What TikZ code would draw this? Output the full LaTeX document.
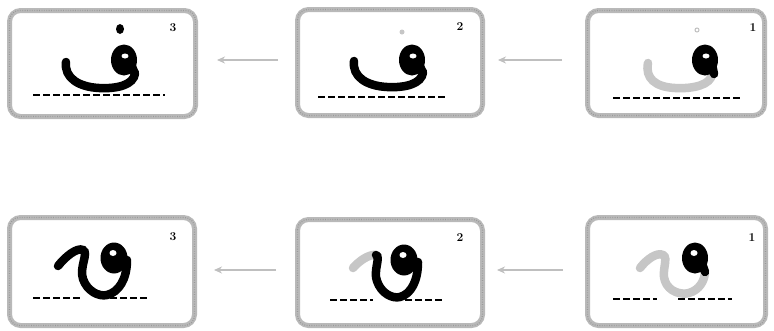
\documentclass[tikz,border=0pt]{standalone}
\usetikzlibrary{arrows.meta}
\begin{document}
\begin{tikzpicture}[x=1pt,y=-1pt,
  box/.style={draw=gray!55, line width=5pt, rounded corners=11pt, fill=white},
  boxtex/.style={draw=gray!80, line width=1.2pt, dash pattern=on 0.8pt off 1.6pt, rounded corners=10pt},
  arr/.style={draw=gray!50, line width=2pt, -{Stealth[length=8pt,width=7pt]}},
  ink/.style={line width=8.5pt, line cap=round, draw=black},
  inkg/.style={line width=8.5pt, line cap=round, draw=gray!45},
  baseln/.style={line width=1.6pt, dash pattern=on 7pt off 3pt},
  num/.style={font=\fontsize{12}{14}\selectfont\bfseries, inner sep=0pt}]
\useasboundingbox (0,0) rectangle (774,330);
% boxes
\node[box, minimum width=186pt, minimum height=106pt] (t3) at (102.5,63.5) {};
\node[box, minimum width=185pt, minimum height=106pt] (t2) at (390,62.5) {};
\node[box, minimum width=177pt, minimum height=105pt] (t1) at (676,63) {};
\node[box, minimum width=185pt, minimum height=108pt] (b3) at (102,271.5) {};
\node[box, minimum width=185pt, minimum height=106pt] (b2) at (390,272.5) {};
\node[box, minimum width=178pt, minimum height=108pt] (b1) at (676.5,271.5) {};
\foreach \n in {t3,t2,t1,b3,b2,b1}
  \draw[boxtex] ([shift={(2.5pt,-2.5pt)}]\n.north west) rectangle ([shift={(-2.5pt,2.5pt)}]\n.south east);
% numbers
\node[num] (n3) at ([shift={(166,20)}]t3.north west) {3};
\node[num] (n2) at ([shift={(165,20)}]t2.north west) {2};
\node[num] (n1) at ([shift={(168,20)}]t1.north west) {1};
\node[num] (m3) at ([shift={(166,22)}]b3.north west) {3};
\node[num] (m2) at ([shift={(165,21)}]b2.north west) {2};
\node[num] (m1) at ([shift={(167,23)}]b1.north west) {1};
% arrows
\draw[arr, shorten <=17pt, shorten >=19pt] (t2.west |- 0,60) -- (t3.east |- 0,60);
\draw[arr, shorten <=23pt, shorten >=13pt] (t1.west |- 0,60) -- (t2.east |- 0,60);
\draw[arr, shorten <=19pt, shorten >=17pt] (b2.west |- 0,270) -- (b3.east |- 0,270);
\draw[arr, shorten <=22pt, shorten >=12pt] (b1.west |- 0,270) -- (b2.east |- 0,270);
% ---------- top row letters ----------
% box 3 (complete)
\begin{scope}[shift={(t3.north west)}]
  \draw[baseln] (26,87) -- (158,87);
  \draw[ink] (128,65) .. controls (127,77) and (110,81) .. (92,80) .. controls (72,79) and (57,70) .. (59,54);
  \fill (117,52) ellipse [x radius=13pt, y radius=15.5pt];
  \draw[ink] (124,56) -- (128,66);
  \fill[white] (118,48) ellipse [x radius=3.5pt, y radius=2.5pt];
  \fill (113,21) ellipse [x radius=4pt, y radius=5pt];
\end{scope}
% box 2
\begin{scope}[shift={(t2.north west)}]
  \draw[baseln] (23,90) -- (153,90);
  \draw[ink] (128,65) .. controls (127,77) and (110,81) .. (92,80) .. controls (72,79) and (57,70) .. (59,54);
  \fill (117,53) ellipse [x radius=13pt, y radius=15.5pt];
  \draw[ink] (124,57) -- (128,66);
  \fill[white] (118,49) ellipse [x radius=3.5pt, y radius=2.5pt];
  \fill[gray!45] (107,25) circle [radius=2.5pt];
\end{scope}
% box 1
\begin{scope}[shift={(t1.north west)}]
  \draw[baseln] (28,90) -- (157,90);
  \draw[inkg] (127,66) .. controls (126,77) and (108,81) .. (90,80) .. controls (70,79) and (60,70) .. (63,55);
  \fill (120,52) ellipse [x radius=13pt, y radius=15.5pt];
  \draw[ink] (127,56) -- (129,66);
  \fill[white] (121,48) ellipse [x radius=3.5pt, y radius=2.5pt];
  \draw[gray!50, line width=1pt] (112,22) circle [radius=2pt];
\end{scope}
% ---------- bottom row letters ----------
% box 3
\begin{scope}[shift={(b3.north west)}]
  \draw[baseln] (26,83) -- (75,83);
  \draw[baseln] (93,83) -- (143,83);
  \draw[ink] (51,51) .. controls (58,42) and (70,32) .. (76,35) .. controls (82,38) and (72,52) .. (76,64) .. controls (80,76) and (92,82) .. (100,80) .. controls (112,77) and (120,64) .. (120,45);
  \fill (107,43) ellipse [x radius=13.5pt, y radius=15.5pt];
  \fill[white] (106,38) ellipse [x radius=3.5pt, y radius=3pt];
\end{scope}
% box 2
\begin{scope}[shift={(b2.north west)}]
  \draw[baseln] (35,83) -- (78,83);
  \draw[baseln] (100,83) -- (150,83);
  \draw[inkg] (58,51) .. controls (64,44) and (74,37) .. (81,38);
  \draw[ink] (81,38) .. controls (86,40) and (78,54) .. (82,64) .. controls (86,76) and (97,82) .. (105,80) .. controls (116,77) and (123,64) .. (123,45);
  \fill (109,43) ellipse [x radius=13.5pt, y radius=15.5pt];
  \fill[white] (108,38) ellipse [x radius=3.5pt, y radius=3pt];
\end{scope}
% box 1
\begin{scope}[shift={(b1.north west)}]
  \draw[baseln] (28,84) -- (72,84);
  \draw[baseln] (93,84) -- (147,84);
  \draw[inkg] (55,53) .. controls (62,44) and (72,37) .. (78,40) .. controls (84,43) and (76,56) .. (80,66) .. controls (84,77) and (96,80) .. (104,78) .. controls (114,75) and (120,66) .. (120,56);
  \fill (110,43) ellipse [x radius=13pt, y radius=15.5pt];
  \draw[ink] (117,48) -- (120,57);
  \fill[white] (109,38) ellipse [x radius=3.5pt, y radius=3pt];
\end{scope}
\end{tikzpicture}
\end{document}
